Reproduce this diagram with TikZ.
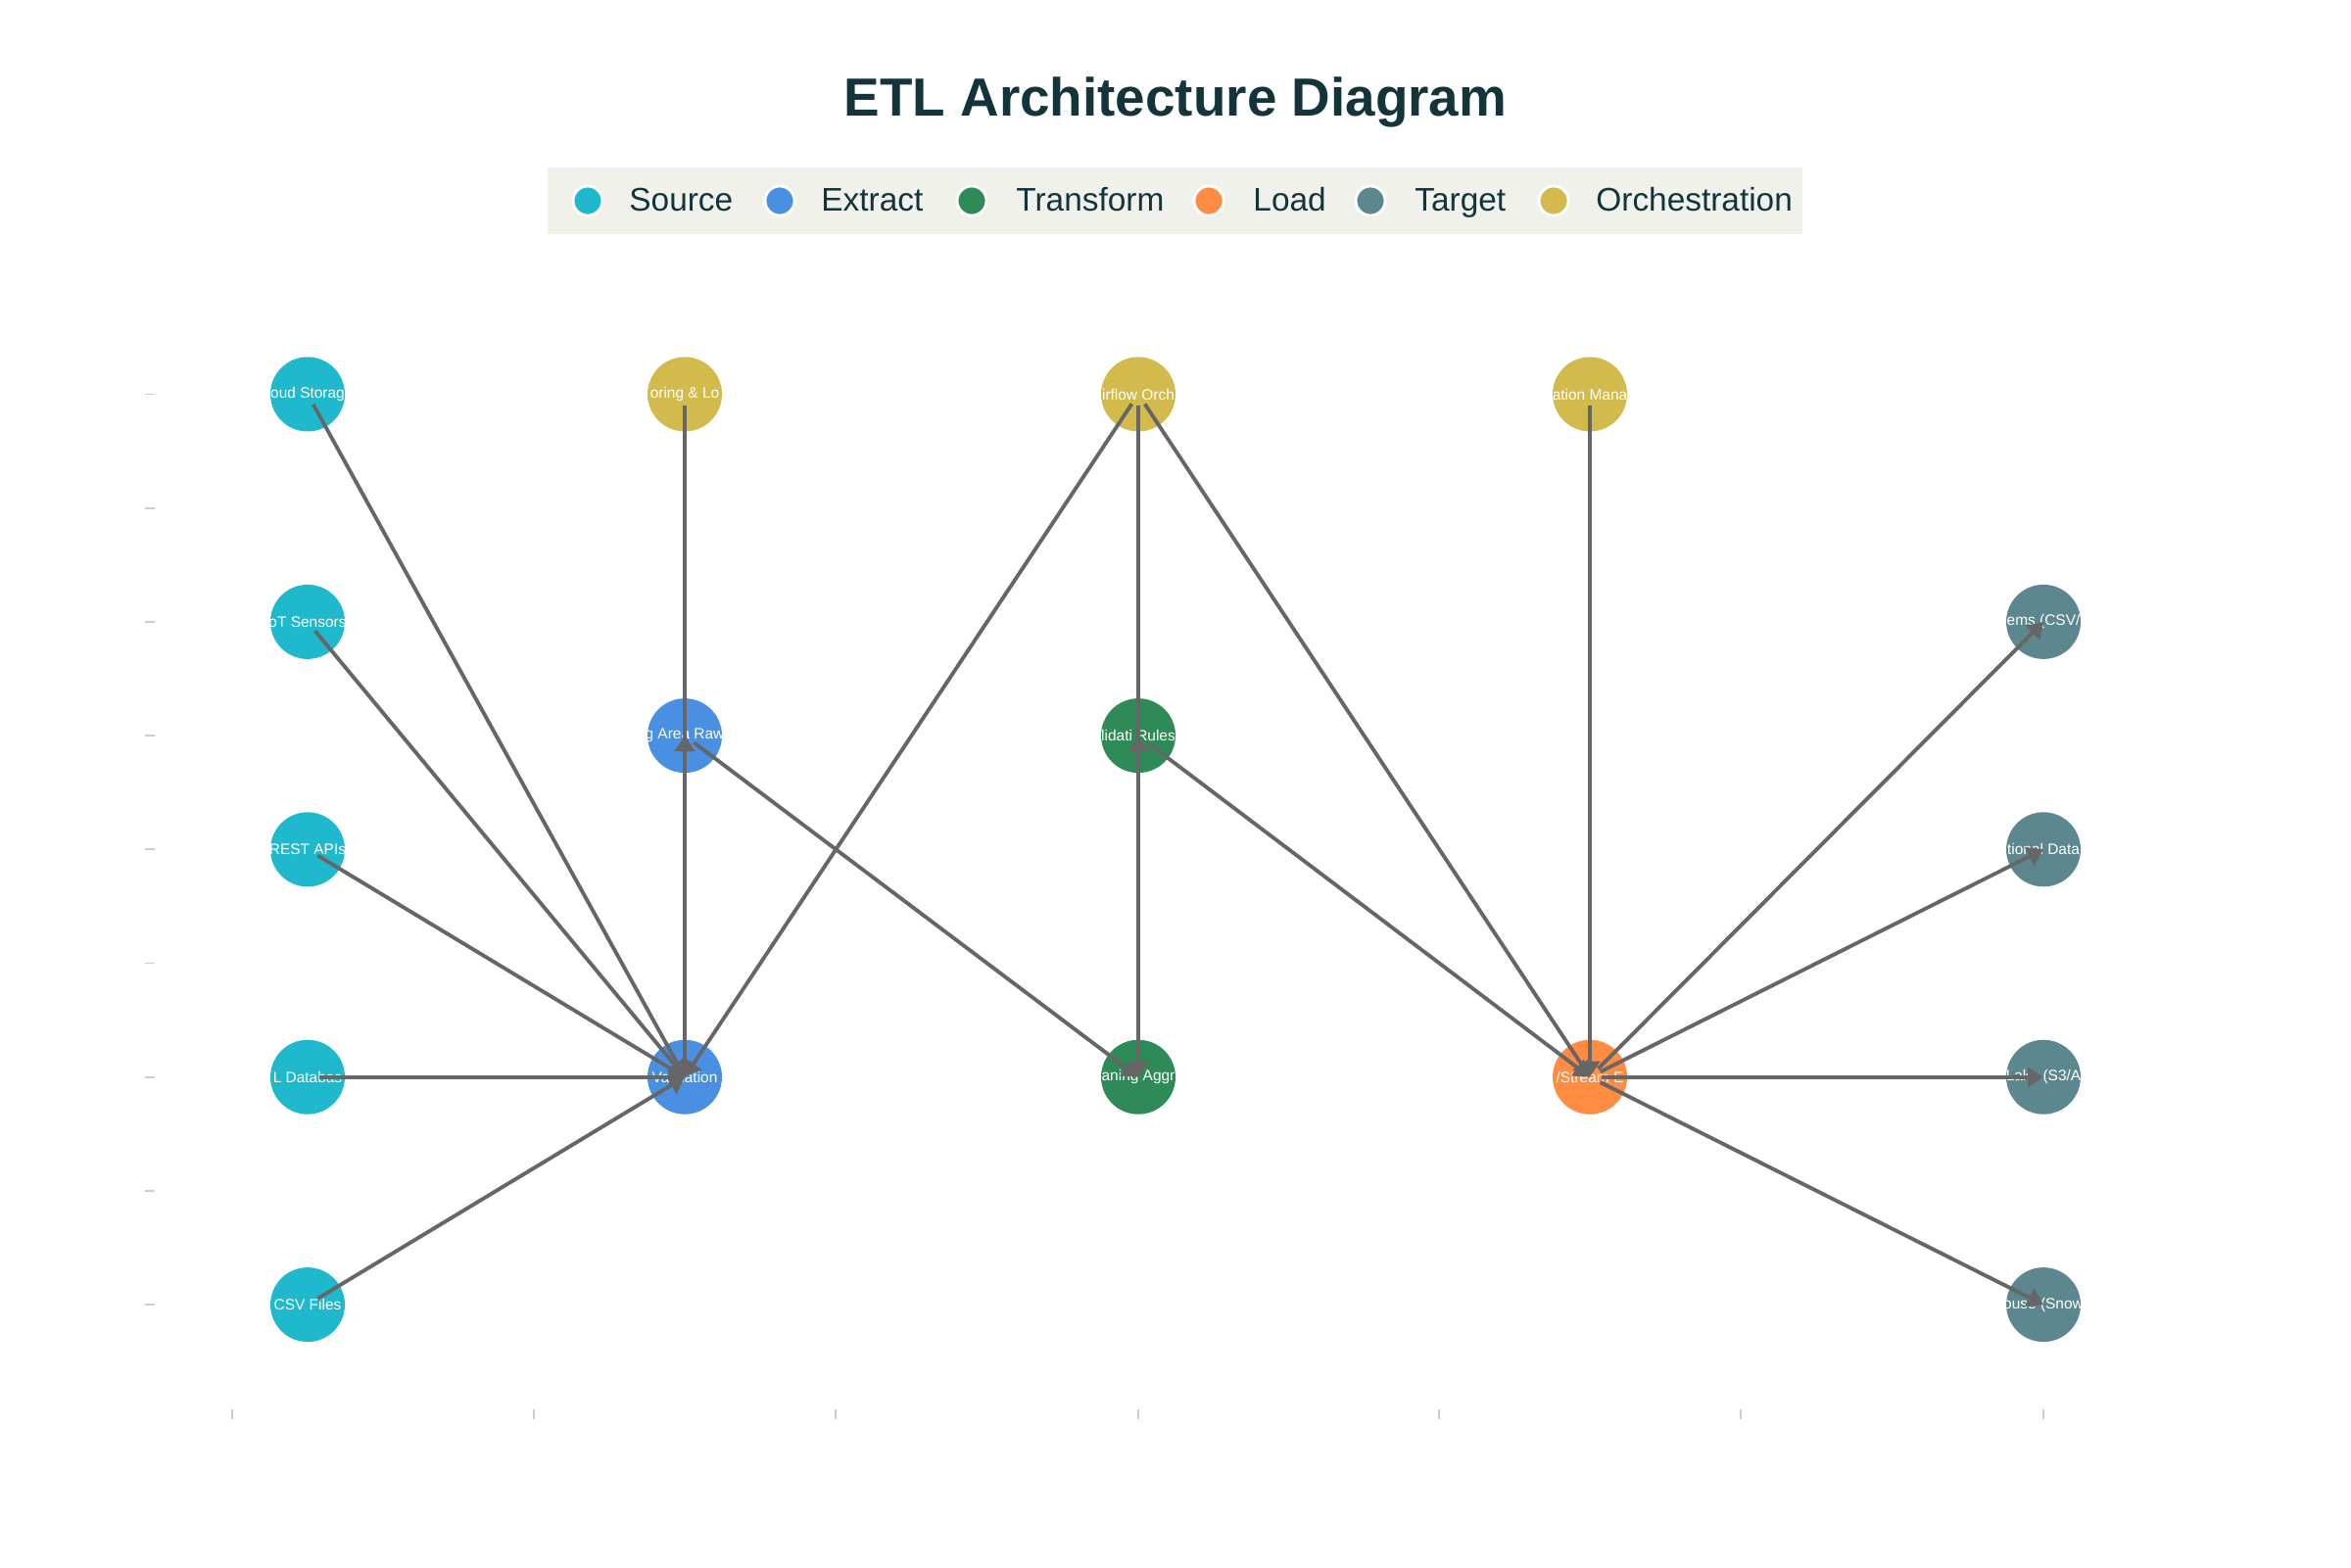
\documentclass[tikz,border=0pt]{standalone}
\usepackage{fontspec}
\setmainfont{Liberation Sans}
\usetikzlibrary{arrows.meta}
\definecolor{srccolor}{HTML}{1FB8CD}
\definecolor{extcolor}{HTML}{4A90E2}
\definecolor{trfcolor}{HTML}{2E8B57}
\definecolor{loadcolor}{HTML}{FF8C42}
\definecolor{tgtcolor}{HTML}{5D878F}
\definecolor{orchcolor}{HTML}{D2BA4C}
\definecolor{titlecolor}{HTML}{13343B}
\definecolor{edgecolor}{HTML}{666666}
\definecolor{legendbg}{HTML}{F1F1EC}
\definecolor{tickcolor}{HTML}{CCCCCC}
\newcommand{\dotlabel}[1]{\makebox[0pt]{#1}}

\begin{document}
\begin{tikzpicture}[
  dot/.style={circle, minimum size=0.76cm, inner sep=0pt, text=white,
              font=\fontsize{4.4}{5}\selectfont},
  arr/.style={-{Triangle[length=1.6mm,width=2mm]}, line width=1.1pt,
              draw=edgecolor, shorten <=1.2mm},
  key/.style={circle, draw=white, line width=0.8pt, minimum size=0.3cm, inner sep=0pt},
  keytext/.style={anchor=base west, font=\fontsize{9.5}{11}\selectfont, text=titlecolor}
]
  \useasboundingbox (0,0) rectangle (24,-16);

  % title and legend
  \node[font=\fontsize{15.6}{18}\selectfont\bfseries, text=titlecolor] (title) at (12,-1.04) {ETL Architecture Diagram};
  \fill[legendbg] (5.59,-1.71) rectangle (18.40,-2.39);
  \node[key, fill=srccolor]  (k1) at (6.00,-2.05) {};
  \node[keytext] (t1) at (6.30,-2.16) {Source};
  \node[key, fill=extcolor]  (k2) at (7.96,-2.05) {};
  \node[keytext] (t2) at (8.26,-2.16) {Extract};
  \node[key, fill=trfcolor]  (k3) at (9.92,-2.05) {};
  \node[keytext] (t3) at (10.25,-2.16) {Transform};
  \node[key, fill=loadcolor] (k4) at (12.34,-2.05) {};
  \node[keytext] (t4) at (12.67,-2.16) {Load};
  \node[key, fill=tgtcolor]  (k5) at (13.99,-2.05) {};
  \node[keytext] (t5) at (14.32,-2.16) {Target};
  \node[key, fill=orchcolor] (k6) at (15.86,-2.05) {};
  \node[keytext] (t6) at (16.17,-2.16) {Orchestration};

  % axis ticks
  \foreach \y in {4.025,5.187,6.349,7.511,8.673,9.835,10.997,12.159,13.321}
    \draw[tickcolor, line width=0.5pt] (1.48,-\y) -- (1.58,-\y);
  \foreach \x in {2.37,5.45,8.53,11.62,14.69,17.77,20.86}
    \draw[tickcolor, line width=0.5pt] (\x,-14.39) -- (\x,-14.49);

  % sources
  \node[dot, fill=srccolor] (cloud) at (3.14,-4.025)  {\dotlabel{oud Storag}};
  \node[dot, fill=srccolor] (iot)   at (3.14,-6.349)  {\dotlabel{oT Sensors}};
  \node[dot, fill=srccolor] (rest)  at (3.14,-8.673)  {\dotlabel{REST APIs}};
  \node[dot, fill=srccolor] (sql)   at (3.14,-10.997) {\dotlabel{L Databas}};
  \node[dot, fill=srccolor] (csv)   at (3.14,-13.321) {\dotlabel{CSV Files}};
  % extract
  \node[dot, fill=orchcolor] (monitor) at (6.99,-4.025)  {\dotlabel{oring \& Lo}};
  \node[dot, fill=extcolor]  (staging) at (6.99,-7.511)  {\dotlabel{g Area Raw}};
  \node[dot, fill=extcolor]  (valid)   at (6.99,-10.997) {\dotlabel{Validation}};
  % transform
  \node[dot, fill=orchcolor] (airflow) at (11.62,-4.025)  {\dotlabel{irflow Orch}};
  \node[dot, fill=trfcolor]  (rules)   at (11.62,-7.511)  {\dotlabel{lidati Rules}};
  \node[dot, fill=trfcolor]  (clean)   at (11.62,-10.997) {\dotlabel{aning Aggr}};
  % load
  \node[dot, fill=orchcolor] (config) at (16.23,-4.025)  {\dotlabel{ation Mana}};
  \node[dot, fill=loadcolor] (loader) at (16.23,-10.997) {\dotlabel{/Stream E}};
  % targets
  \node[dot, fill=tgtcolor] (files) at (20.86,-6.349)  {\dotlabel{ems (CSV/}};
  \node[dot, fill=tgtcolor] (reldb) at (20.86,-8.673)  {\dotlabel{tional Data}};
  \node[dot, fill=tgtcolor] (lake)  at (20.86,-10.997) {\dotlabel{Lake (S3/A}};
  \node[dot, fill=tgtcolor] (wh)    at (20.86,-13.321) {\dotlabel{ouse (Snow}};

  % connectors
  \foreach \s in {cloud,iot,rest,sql,csv}
    \draw[arr] (\s.center) -- (valid.center);
  \draw[arr] (monitor.center) -- (valid.center);
  \draw[arr] (airflow.center) -- (valid.center);
  \draw[arr] (valid.center) -- (staging.center);
  \draw[arr] (staging.center) -- (clean.center);
  \draw[arr] (airflow.center) -- (clean.center);
  \draw[arr] (clean.center) -- (rules.center);
  \draw[arr] (rules.center) -- (loader.center);
  \draw[arr] (airflow.center) -- (loader.center);
  \draw[arr] (config.center) -- (loader.center);
  \foreach \t in {files,reldb,lake,wh}
    \draw[arr] (loader.center) -- (\t.center);
\end{tikzpicture}
\end{document}
